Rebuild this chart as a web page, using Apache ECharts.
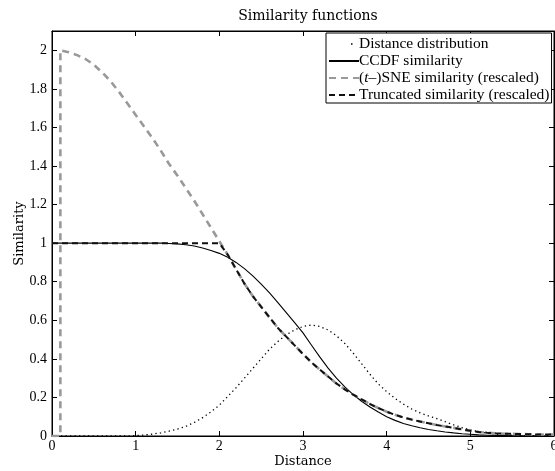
<!DOCTYPE html>
<html>
<head>
<meta charset="utf-8">
<script src="https://cdn.jsdelivr.net/npm/echarts@6/dist/echarts.min.js"></script>
<style>
  html, body { margin: 0; padding: 0; background: #fff; }
  #main { width: 555px; height: 471px; }
</style>
</head>
<body>
<div id="main"></div>
<script>
// distance grid (x)
var xs = [0, 0.1, 0.2, 0.3, 0.4, 0.5, 0.6, 0.7, 0.8, 0.9,
  1, 1.1, 1.2, 1.3, 1.4, 1.5, 1.6, 1.7, 1.8, 1.9,
  2, 2.1, 2.2, 2.3, 2.4, 2.5, 2.6, 2.7, 2.8, 2.9,
  3, 3.1, 3.2, 3.3, 3.4, 3.5, 3.6, 3.7, 3.8, 3.9,
  4, 4.1, 4.2, 4.3, 4.4, 4.5, 4.6, 4.7, 4.8, 4.9,
  5, 5.1, 5.2, 5.3, 5.4, 5.5, 5.6, 5.7, 5.8, 5.9, 6];

var distValues = [0, 0, 0, 0, 0, 0, 0, 0, 0, 0,
  0.002, 0.005, 0.01, 0.016, 0.025, 0.036, 0.05, 0.07, 0.095, 0.125,
  0.16, 0.205, 0.25, 0.3, 0.35, 0.4, 0.45, 0.49, 0.525, 0.55,
  0.568, 0.575, 0.568, 0.55, 0.52, 0.48, 0.43, 0.375, 0.32, 0.27,
  0.23, 0.195, 0.165, 0.14, 0.12, 0.104, 0.09, 0.074, 0.058, 0.044,
  0.032, 0.022, 0.015, 0.01, 0.006, 0.004, 0.002, 0.001, 0.001, 0, 0];

var ccdfValues = [1, 1, 1, 1, 1, 1, 1, 1, 1, 1,
  1, 1, 1, 1, 0.998, 0.996, 0.992, 0.985, 0.975, 0.962,
  0.947, 0.927, 0.9, 0.868, 0.83, 0.787, 0.742, 0.692, 0.64, 0.588,
  0.535, 0.472, 0.41, 0.352, 0.3, 0.255, 0.215, 0.18, 0.15, 0.124,
  0.1, 0.081, 0.065, 0.053, 0.043, 0.034, 0.027, 0.021, 0.016, 0.012,
  0.009, 0.006, 0.004, 0.003, 0.002, 0.001, 0.001, 0, 0, 0, 0];

// (t-)SNE curve: own x list because of the vertical jump near 0.1
var sneX = [0, 0.1, 0.1, 0.2, 0.3, 0.4, 0.5, 0.6, 0.7, 0.8, 0.9,
  1, 1.1, 1.2, 1.3, 1.4, 1.5, 1.6, 1.7, 1.8, 1.9,
  2, 2.1, 2.2, 2.3, 2.4, 2.5, 2.6, 2.7, 2.8, 2.9,
  3, 3.1, 3.2, 3.3, 3.4, 3.5, 3.6, 3.7, 3.8, 3.9,
  4, 4.1, 4.2, 4.3, 4.4, 4.5, 4.6, 4.7, 4.8, 4.9,
  5, 5.1, 5.2, 5.3, 5.4, 5.5, 5.6, 5.7, 5.8, 5.9, 6];
var sneValues = [0, 0, 2, 1.99, 1.975, 1.955, 1.925, 1.885, 1.84, 1.785, 1.725,
  1.665, 1.605, 1.545, 1.48, 1.41, 1.35, 1.285, 1.22, 1.15, 1.08,
  1.01, 0.94, 0.865, 0.79, 0.725, 0.67, 0.615, 0.56, 0.515, 0.47,
  0.425, 0.382, 0.345, 0.308, 0.272, 0.242, 0.214, 0.19, 0.166, 0.145,
  0.126, 0.11, 0.096, 0.085, 0.075, 0.066, 0.057, 0.049, 0.042, 0.034,
  0.027, 0.021, 0.017, 0.014, 0.012, 0.011, 0.01, 0.009, 0.008, 0.008, 0.007];

var truncValues = [1, 1, 1, 1, 1, 1, 1, 1, 1, 1,
  1, 1, 1, 1, 1, 1, 1, 1, 1, 1,
  1, 0.94, 0.865, 0.79, 0.725, 0.67, 0.615, 0.56, 0.515, 0.47,
  0.425, 0.382, 0.345, 0.308, 0.272, 0.242, 0.214, 0.19, 0.166, 0.145,
  0.126, 0.11, 0.096, 0.085, 0.075, 0.066, 0.057, 0.049, 0.042, 0.034,
  0.027, 0.021, 0.017, 0.014, 0.012, 0.011, 0.01, 0.009, 0.008, 0.008, 0.007];

var seriesNames = ['Distance distribution', 'CCDF similarity',
  '(t\u2013)SNE similarity (rescaled)', 'Truncated similarity (rescaled)'];

function pairs(xv, yv) {
  return xv.map(function (x, i) { return [x, yv[i]]; });
}

var serif = 'Liberation Serif';
var cmSerif = 'DejaVu Serif';

var myChart = echarts.init(document.getElementById('main'), null, {renderer: 'canvas'});

var axisCommon = {
  axisLine: {show: true, onZero: false, lineStyle: {color: '#000', width: 1}},
  axisTick: {show: true, inside: true, length: 5, lineStyle: {color: '#000', width: 1}},
  splitLine: {show: false}
};

// hide the round marker ECharts puts on line-series legend icons
var noMarker = {opacity: 0};

myChart.setOption({
  backgroundColor: '#fff',
  animation: false,
  title: {
    text: 'Similarity functions',
    left: 303,
    top: 4,
    textAlign: 'center',
    textStyle: {fontFamily: cmSerif, fontSize: 14, fontWeight: 'normal', color: '#000'}
  },
  grid: {
    left: 52,
    top: 31,
    right: 1,
    bottom: 35,
    outerBoundsMode: 'none',
    show: true,
    borderColor: '#000',
    borderWidth: 1
  },
  legend: {
    left: 326,
    top: 33,
    orient: 'vertical',
    align: 'left',
    itemWidth: 30,
    itemHeight: 16,
    itemGap: 1,
    padding: [3, 2, 0, 2],
    borderColor: '#000',
    borderWidth: 1,
    backgroundColor: '#fff',
    textStyle: {
      fontFamily: serif, fontSize: 15.5, color: '#000', padding: [0, 0, 0, -5],
      rich: {i: {fontFamily: serif, fontSize: 15.5, fontStyle: 'italic', color: '#000'}}
    },
    formatter: function (name) {
      if (name === seriesNames[2]) return '({i|t}\u2013)SNE similarity (rescaled)';
      return name;
    },
    data: [
      {name: seriesNames[0], icon: 'path://M0,0M30,16M22,7.3h1.5v1.5h-1.5z', itemStyle: {color: '#000'}},
      {name: seriesNames[1], itemStyle: noMarker},
      {name: seriesNames[2], itemStyle: noMarker},
      {name: seriesNames[3], itemStyle: noMarker}
    ]
  },
  xAxis: [
    Object.assign({
      type: 'value', min: 0, max: 6, interval: 1, position: 'bottom',
      name: 'Distance', nameLocation: 'middle', nameGap: 19, nameMoveOverlap: false,
      nameTextStyle: {fontFamily: cmSerif, fontSize: 13, color: '#000'},
      axisLabel: {color: '#000', fontFamily: serif, fontSize: 14, margin: 3}
    }, axisCommon),
    Object.assign({
      type: 'value', min: 0, max: 6, interval: 1, position: 'top',
      axisLabel: {show: false}
    }, axisCommon)
  ],
  yAxis: [
    Object.assign({
      type: 'value', min: 0, max: 2.1, interval: 0.2, position: 'left',
      name: 'Similarity', nameLocation: 'middle', nameGap: 26, nameMoveOverlap: false,
      nameTextStyle: {fontFamily: cmSerif, fontSize: 13, color: '#000'},
      axisLabel: {color: '#000', fontFamily: serif, fontSize: 14, margin: 5, showMaxLabel: false}
    }, axisCommon),
    Object.assign({
      type: 'value', min: 0, max: 2.1, interval: 0.2, position: 'right',
      axisLabel: {show: false}
    }, axisCommon)
  ],
  series: [
    {
      name: seriesNames[0], type: 'line', symbol: 'none',
      data: pairs(xs, distValues),
      lineStyle: {color: '#000', width: 1.3, type: [1.3, 3.2]},
      itemStyle: {color: '#000'}
    },
    {
      name: seriesNames[1], type: 'line', symbol: 'none',
      data: pairs(xs, ccdfValues),
      lineStyle: {color: '#000', width: 1.1, type: 'solid'},
      itemStyle: {color: '#000'}
    },
    {
      name: seriesNames[2], type: 'line', symbol: 'none',
      data: pairs(sneX, sneValues),
      lineStyle: {color: '#999', width: 2.6, type: [7, 5]},
      itemStyle: {color: '#999'}
    },
    {
      name: seriesNames[3], type: 'line', symbol: 'none',
      data: pairs(xs, truncValues),
      lineStyle: {color: '#111', width: 2, type: [6, 4]},
      itemStyle: {color: '#111'}
    }
  ]
});

window.addEventListener('resize', function () {
  myChart.resize();
});
</script>
</body>
</html>
